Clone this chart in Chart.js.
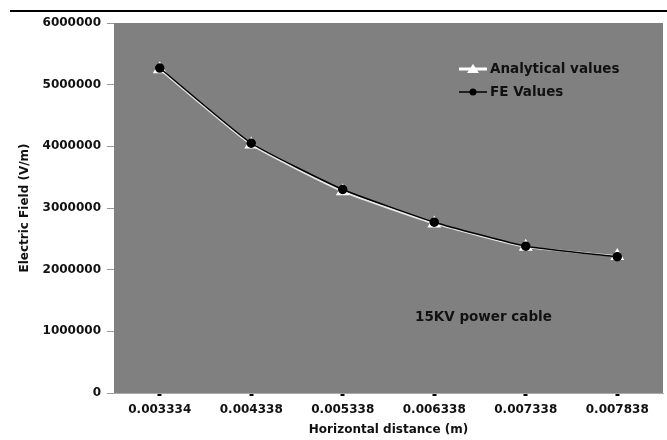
<!DOCTYPE html>
<html>
<head>
<meta charset="utf-8">
<script src="https://cdn.jsdelivr.net/npm/chart.js@4"></script>
<style>
    html, body { margin: 0; padding: 0; background: #fff; }
    #wrap { position: relative; width: 667px; height: 440px; }
    #rule { position: absolute; left: 10px; right: 0; top: 10px; border-top: 2px solid #000; }
</style>
</head>
<body>
<div id="wrap">
    <div id="rule"></div>
    <canvas id="chart" width="667" height="440"></canvas>
</div>
<script>
    const distances = ['0.003334', '0.004338', '0.005338', '0.006338', '0.007338', '0.007838']
    const analyticalValues = [5250000, 4030000, 3270000, 2750000, 2370000, 2220000]
    const feValues = [5270000, 4050000, 3300000, 2770000, 2380000, 2210000]
    const yTicks = [0, 1000000, 2000000, 3000000, 4000000, 5000000, 6000000]

    const family = 'DejaVu Sans, sans-serif'
    const tickFont = { family: family, weight: 'bold', size: 12 }
    const titleFont = { family: family, weight: 'bold', size: 12 }

    // grey plot background, legend and note inside the plot area
    const plotDecor = {
        id: 'plotDecor',
        beforeDatasetsDraw(chart) {
            const { ctx, chartArea: a } = chart
            ctx.save()
            ctx.fillStyle = '#808080'
            ctx.fillRect(a.left, a.top, a.right - a.left, a.bottom - a.top)
            ctx.restore()
        },
        afterDraw(chart) {
            const { ctx, chartArea: a } = chart
            ctx.save()
            ctx.font = 'bold 13.5px DejaVu Sans, sans-serif'
            ctx.textBaseline = 'middle'
            const lx = a.left + 345, ly1 = a.top + 46, ly2 = a.top + 69
            // analytical entry
            ctx.strokeStyle = '#fff'; ctx.lineWidth = 3
            ctx.beginPath(); ctx.moveTo(lx, ly1); ctx.lineTo(lx + 28, ly1); ctx.stroke()
            ctx.fillStyle = '#fff'
            ctx.beginPath(); ctx.moveTo(lx + 14, ly1 - 5); ctx.lineTo(lx + 20, ly1 + 4); ctx.lineTo(lx + 8, ly1 + 4); ctx.closePath(); ctx.fill()
            // FE entry
            ctx.strokeStyle = '#000'; ctx.lineWidth = 1.5
            ctx.beginPath(); ctx.moveTo(lx, ly2); ctx.lineTo(lx + 28, ly2); ctx.stroke()
            ctx.fillStyle = '#000'
            ctx.beginPath(); ctx.arc(lx + 14, ly2, 3.5, 0, Math.PI * 2); ctx.fill()
            ctx.fillStyle = '#111'
            ctx.fillText('Analytical values', lx + 31, ly1)
            ctx.fillText('FE Values', lx + 31, ly2)
            ctx.fillText('15KV power cable', a.left + 301, a.top + 294)
            ctx.restore()
        }
    }

    new Chart(document.getElementById('chart'), {
        type: 'line',
        data: {
            labels: distances,
            datasets: [
                {
                    label: 'FE Values',
                    data: feValues,
                    borderColor: '#000',
                    borderWidth: 1.5,
                    pointStyle: 'circle',
                    pointRadius: 4,
                    pointBackgroundColor: '#000',
                    pointBorderColor: '#000',
                    tension: 0.15,
                    order: 1
                },
                {
                    label: 'Analytical values',
                    data: analyticalValues,
                    borderColor: '#e8e8e8',
                    borderWidth: 2,
                    pointStyle: 'triangle',
                    pointRadius: 6,
                    pointBackgroundColor: '#fff',
                    pointBorderColor: '#fff',
                    tension: 0.15,
                    order: 2
                }
            ]
        },
        options: {
            responsive: false,
            animation: false,
            layout: { autoPadding: false, padding: { top: 23, right: 4, left: 10, bottom: 0 } },
            plugins: { legend: { display: false }, tooltip: { enabled: false } },
            scales: {
                x: {
                    offset: true,
                    afterFit: (axis) => { axis.height = 47 },
                    grid: { display: true, drawOnChartArea: false, color: '#000', tickLength: 3, tickWidth: 4, offset: false },
                    border: { color: '#aaa', width: 1 },
                    ticks: { color: '#111', font: tickFont, padding: 7, maxRotation: 0 },
                    title: { display: true, text: 'Horizontal distance (m)', color: '#111', font: titleFont, padding: { top: 0, bottom: 3 } }
                },
                y: {
                    min: 0,
                    max: 6000000,
                    afterBuildTicks: (axis) => { axis.ticks = yTicks.map(v => ({ value: v })) },
                    afterFit: (axis) => { axis.width = 104 },
                    grid: { display: true, drawOnChartArea: false, color: '#999', tickLength: 7 },
                    border: { color: '#aaa', width: 1 },
                    ticks: { color: '#111', font: tickFont, padding: 6, callback: (v) => String(v) },
                    title: { display: true, text: 'Electric Field (V/m)', color: '#111', font: titleFont, padding: { top: 8, bottom: 0 } }
                }
            }
        },
        plugins: [plotDecor]
    })
</script>
</body>
</html>
